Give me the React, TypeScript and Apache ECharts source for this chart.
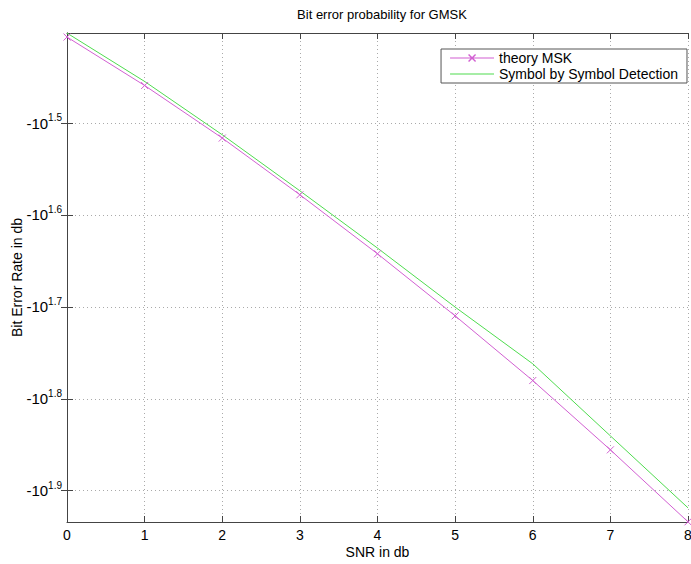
import React, { useEffect, useRef } from "react";
import * as echarts from "echarts";

const snr = [0, 1, 2, 3, 4, 5, 6, 7, 8];
const theoryMSK = [1.4064, 1.4591, 1.5163, 1.578, 1.6422, 1.7097, 1.7801, 1.8555, 1.9338];
const symbolDetection = [1.4021, 1.4547, 1.5127, 1.5737, 1.636, 1.7002, 1.7619, 1.8403, 1.9186];
const yTicks = [1.5, 1.6, 1.7, 1.8, 1.9];
const xTicks = [0, 1, 2, 3, 4, 5, 6, 7, 8];

const FONT = "'Liberation Sans', Arial, sans-serif";
const AXIS_COLOR = "#444";
const GRID_COLOR = "#aaa";
const MAGENTA = "#d25fd2";
const GREEN = "#4fdc4f";

export default function App() {
  const ref = useRef<HTMLDivElement>(null);
  useEffect(() => {
    if (!ref.current) return;
    const chart = echarts.init(ref.current, null, { renderer: "svg" });
    const yMin = 1.402;
    const yMax = 1.934;
    const commonX = {
      type: "value",
      min: xTicks[0],
      max: xTicks[xTicks.length - 1],
      interval: 1,
      axisLine: { show: true, lineStyle: { color: AXIS_COLOR, width: 1 } },
      axisTick: { show: true, inside: true, length: 6, lineStyle: { color: AXIS_COLOR } },
    };
    const commonY = {
      type: "value",
      min: yMin,
      max: yMax,
      inverse: true,
      axisLine: { show: true, lineStyle: { color: AXIS_COLOR, width: 1 } },
      axisTick: {
        show: true,
        inside: true,
        length: 6,
        customValues: yTicks,
        lineStyle: { color: AXIS_COLOR },
      },
    };
    const xIcon =
      "path://M0,5.5h44v1h-44zM18,3L19,2L26,9L25,10ZM25,2L26,3L19,10L18,9Z";
    const lineIcon = "path://M0,0h44v1h-44z";
    chart.setOption({
      animation: false,
      backgroundColor: "#fff",
      textStyle: { fontFamily: FONT },
      title: {
        text: "Bit error probability for GMSK",
        left: 377,
        top: 3,
        textAlign: "center",
        textStyle: { fontFamily: FONT, fontSize: 13, fontWeight: "normal", color: "#000" },
      },
      legend: {
        right: 4,
        top: 49,
        orient: "vertical",
        itemWidth: 44,
        itemHeight: 12,
        itemGap: 2,
        padding: [2, 9, 2, 9],
        borderColor: "#555",
        borderWidth: 1,
        backgroundColor: "#fff",
        textStyle: { fontFamily: FONT, fontSize: 14, color: "#000" },
        data: [
          { name: "theory MSK", icon: xIcon, itemStyle: { color: MAGENTA, borderWidth: 0 } },
          { name: "Symbol by Symbol Detection", icon: lineIcon, itemStyle: { color: GREEN, borderWidth: 0 } },
        ],
      },
      grid: { left: 67, right: 3, top: 33, bottom: 42, outerBoundsMode: "none" },
      xAxis: [
        {
          ...commonX,
          position: "bottom",
          name: "SNR in db",
          nameLocation: "middle",
          nameGap: 23,
          nameMoveOverlap: false,
          nameTextStyle: { fontFamily: FONT, fontSize: 14, color: "#000" },
          axisLabel: { fontFamily: FONT, fontSize: 14, color: "#000", margin: 6 },
          splitLine: { show: true, lineStyle: { color: GRID_COLOR, type: [1, 3], width: 1 } },
        },
        {
          ...commonX,
          position: "top",
          axisLabel: { show: false },
          splitLine: { show: false },
        },
      ],
      yAxis: [
        {
          ...commonY,
          position: "left",
          name: "Bit Error Rate in db",
          nameLocation: "middle",
          nameGap: 43,
          nameMoveOverlap: false,
          nameTextStyle: { fontFamily: FONT, fontSize: 14, color: "#000" },
          axisLabel: {
            customValues: yTicks,
            margin: 5,
            formatter: (v: number) => `{b|-10}{s|${v.toFixed(1)}}`,
            rich: {
              b: { fontFamily: FONT, fontSize: 15, color: "#000" },
              s: { fontFamily: FONT, fontSize: 10, color: "#000", padding: [0, 0, 11, 0] },
            },
          },
          splitLine: { show: true, lineStyle: { color: GRID_COLOR, type: [1, 3], width: 1 } },
        },
        {
          ...commonY,
          position: "right",
          axisLabel: { show: false },
          splitLine: { show: false },
        },
      ],
      series: [
        {
          name: "theory MSK",
          type: "line",
          xAxisIndex: 0,
          yAxisIndex: 0,
          data: snr.map((x, i) => [x, theoryMSK[i]]),
          lineStyle: { color: MAGENTA, width: 1 },
          symbol: "path://M0,0L10,10M10,0L0,10",
          symbolSize: 7,
          itemStyle: { color: MAGENTA, borderColor: MAGENTA, borderWidth: 1 },
        },
        {
          name: "Symbol by Symbol Detection",
          type: "line",
          xAxisIndex: 0,
          yAxisIndex: 0,
          data: snr.map((x, i) => [x, symbolDetection[i]]),
          lineStyle: { color: GREEN, width: 1 },
          itemStyle: { color: GREEN },
          symbol: "none",
        },
      ],
    });
    return () => chart.dispose();
  }, []);
  return <div ref={ref} style={{ width: 691, height: 564, position: "absolute", left: 0, top: 0 }} />;
}
